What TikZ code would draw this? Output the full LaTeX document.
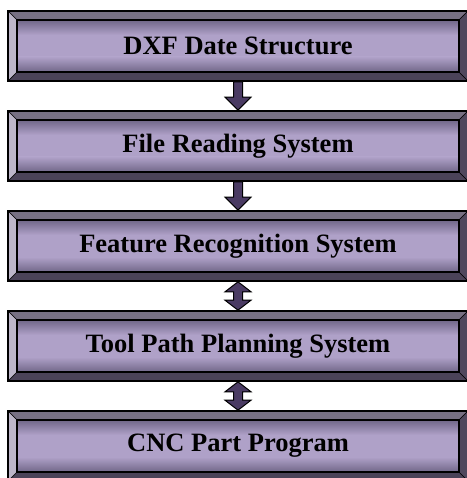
\documentclass[tikz,border=0pt]{standalone}
\usepackage{fontspec}
\setmainfont{Liberation Serif}
\usepackage{tikz}
\usetikzlibrary{positioning, calc}

\definecolor{bevtop}{HTML}{777083}
\definecolor{bevleft}{HTML}{BDB6C9}
\definecolor{bevbottom}{HTML}{4B4358}
\definecolor{bevright}{HTML}{4F475D}
\definecolor{faceedge}{HTML}{716788}
\definecolor{facemid}{HTML}{AFA1C8}
\definecolor{arrowfill}{HTML}{4A3B63}

\tikzset{
  bevelbox/.style={draw, line width=1.6pt, minimum width=460pt, minimum height=70pt, inner sep=0pt,
    font=\bfseries\fontsize{26.5}{30}\selectfont,
    path picture={
      \path (path picture bounding box.north west) coordinate (pnw)
            (path picture bounding box.south east) coordinate (pse)
            (pnw -| pse) coordinate (pne) (pse -| pnw) coordinate (psw);
      \path ($(pnw)+(9,-9)$) coordinate (inw) ($(pne)+(-9,-9)$) coordinate (ine)
            ($(pse)+(-9,9)$) coordinate (ise) ($(psw)+(9,9)$) coordinate (isw);
      % the four bevel faces
      \filldraw[fill=bevtop, line width=0.6pt] (pnw) -- (pne) -- (ine) -- (inw) -- cycle;
      \filldraw[fill=bevbottom, line width=0.6pt] (psw) -- (pse) -- (ise) -- (isw) -- cycle;
      \filldraw[fill=bevleft, line width=0.6pt] (pnw) -- (inw) -- (isw) -- (psw) -- cycle;
      \filldraw[fill=bevright, line width=0.6pt] (pne) -- (ine) -- (ise) -- (pse) -- cycle;
      % raised face: light middle, darker towards top and bottom
      \fill[facemid] (inw) rectangle (ise);
      \shade[top color=faceedge, bottom color=facemid] (inw) rectangle ($(ine)+(0,-15)$);
      \shade[top color=facemid, bottom color=faceedge] ($(isw)+(0,15)$) rectangle (ise);
      \draw[line width=2.4pt] (inw) rectangle (ise);
    }},
  blockarrow/.style={fill=arrowfill, draw=black, line width=1pt, line join=miter}
}

\begin{document}
\begin{tikzpicture}[x=1pt, y=1pt]
\useasboundingbox (0,0) rectangle (466,-478);

\node[bevelbox] (dxf) at (238,-46) {DXF Date Structure};
\node[bevelbox, below=28.4pt of dxf] (read) {File Reading System};
\node[bevelbox, below=28.4pt of read] (feat) {Feature Recognition System};
\node[bevelbox, below=28.4pt of feat] (path) {Tool Path Planning System};
\node[bevelbox, below=28.4pt of path] (cnc) {CNC Part Program};

% one-way arrows
\foreach \a/\b in {dxf/read, read/feat} {
  \path (\a.south) coordinate (s) (\b.north) coordinate (t);
  \draw[blockarrow] ($(s)+(-4.5,0)$) -- ($(t)+(-4.5,13)$) -- ($(t)+(-13,13)$) -- (t)
    -- ($(t)+(13,13)$) -- ($(t)+(4.5,13)$) -- ($(s)+(4.5,0)$) -- cycle;
}
% two-way arrows
\foreach \a/\b in {feat/path, path/cnc} {
  \path (\a.south) coordinate (s) (\b.north) coordinate (t);
  \draw[blockarrow] (s) -- ($(s)+(13,-10)$) -- ($(s)+(4.5,-10)$) -- ($(t)+(4.5,10)$)
    -- ($(t)+(13,10)$) -- (t) -- ($(t)+(-13,10)$) -- ($(t)+(-4.5,10)$)
    -- ($(s)+(-4.5,-10)$) -- ($(s)+(-13,-10)$) -- cycle;
}
\end{tikzpicture}
\end{document}
